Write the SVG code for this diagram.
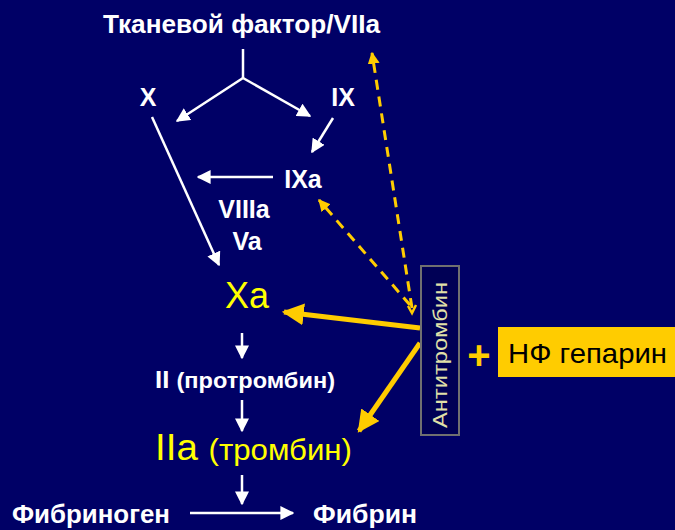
<svg xmlns="http://www.w3.org/2000/svg" width="675" height="530" viewBox="0 0 675 530">
<defs>
<style>
.w{fill:#fff;font-family:"Liberation Sans",Arial,sans-serif;font-weight:bold}
.y{fill:#ffff00;font-family:"Liberation Sans",Arial,sans-serif}
.wl{stroke:#fff;stroke-width:2.5;fill:none}
.yd{stroke:#ffcc00;stroke-width:3;fill:none;stroke-dasharray:10,7}
.yt{stroke:#ffcc00;stroke-width:5;fill:none}
</style>
<marker id="aw2" viewBox="0 0 10 10" refX="9" refY="5" markerWidth="14" markerHeight="14" markerUnits="userSpaceOnUse" orient="auto"><path d="M0,0L10,5L0,10z" fill="#fff"/></marker>
<marker id="ay" viewBox="0 0 10 10" refX="9" refY="5" markerWidth="12" markerHeight="12" markerUnits="userSpaceOnUse" orient="auto"><path d="M0,0L10,5L0,10z" fill="#ffcc00"/></marker>
<marker id="ayt" viewBox="0 0 10 10" refX="9" refY="5" markerWidth="22" markerHeight="22" markerUnits="userSpaceOnUse" orient="auto"><path d="M0,0L10,5L0,10z" fill="#ffcc00"/></marker>
</defs>
<rect width="675" height="530" fill="#000066"/>

<g id="connectors">
<path class="wl" d="M243,49V78"/>
<path class="wl" d="M243,78L177,121" marker-end="url(#aw2)"/>
<path class="wl" d="M243,78L310,116" marker-end="url(#aw2)"/>
<path class="wl" d="M152,117L219,265" marker-end="url(#aw2)"/>
<path class="wl" d="M333,118L312,152" marker-end="url(#aw2)"/>
<path class="wl" d="M273,177H198" marker-end="url(#aw2)"/>
<path class="wl" d="M242,333V358" marker-end="url(#aw2)"/>
<path class="wl" d="M242,400V431" marker-end="url(#aw2)"/>
<path class="wl" d="M242,475V504" marker-end="url(#aw2)"/>
<path class="wl" d="M190,513H293" marker-end="url(#aw2)"/>
<path class="yd" d="M412,308L372,53" marker-end="url(#ay)"/>
<path d="M408,306L412,313L416,305" stroke="#ffcc00" stroke-width="2.5" fill="none"/>
<path class="yd" d="M410,305L319,200" marker-end="url(#ay)"/>
<path class="yt" d="M420,328L284,312" marker-end="url(#ayt)"/>
<path class="yt" d="M420,343L359,431" marker-end="url(#ayt)"/>
</g>

<g id="tf"><text class="w" x="103" y="33" font-size="25" textLength="277" lengthAdjust="spacingAndGlyphs">Тканевой фактор/VIIa</text></g>
<g id="x"><text class="w" x="148" y="106" font-size="25" text-anchor="middle">X</text></g>
<g id="ix"><text class="w" x="343" y="106" font-size="25" text-anchor="middle">IX</text></g>
<g id="ixa"><text class="w" x="303" y="188" font-size="25" text-anchor="middle">IXa</text></g>
<g id="cof"><text class="w" x="244" y="218" font-size="25" text-anchor="middle">VIIIa</text><text class="w" x="247" y="250" font-size="25" text-anchor="middle">Va</text></g>
<g id="xa"><text class="y" x="247" y="308" font-size="36" text-anchor="middle">Xa</text></g>
<g id="ii"><text class="w" x="155" y="388" textLength="180" lengthAdjust="spacingAndGlyphs"><tspan font-size="24">II </tspan><tspan font-size="22">(протромбин)</tspan></text></g>
<g id="iia"><text class="y" x="155" y="460" textLength="197" lengthAdjust="spacingAndGlyphs"><tspan font-size="37">IIa </tspan><tspan font-size="30">(тромбин)</tspan></text></g>
<g id="fibrinogen"><text class="w" x="12" y="523" font-size="25" textLength="158" lengthAdjust="spacingAndGlyphs">Фибриноген</text></g>
<g id="fibrin"><text class="w" x="313" y="523" font-size="25" textLength="104" lengthAdjust="spacingAndGlyphs">Фибрин</text></g>
<g id="antithrombin">
<rect x="421" y="266" width="38" height="169" fill="#000055" stroke="#707070" stroke-width="2"/>
<text transform="translate(447,428) rotate(-90)" font-family="'Liberation Sans',Arial,sans-serif" font-size="20" fill="#e0e0a8" textLength="146" lengthAdjust="spacingAndGlyphs">Антитромбин</text>
</g>
<g id="plus"><text x="479" y="369" font-family="'Liberation Sans',Arial,sans-serif" font-size="40" font-weight="bold" fill="#ffcc00" text-anchor="middle">+</text></g>
<g id="heparin">
<rect x="498" y="327" width="177" height="50" fill="#ffcc00"/>
<text x="508" y="363" font-family="'Liberation Sans',Arial,sans-serif" font-size="28" fill="#000" textLength="159" lengthAdjust="spacingAndGlyphs">НФ гепарин</text>
</g>
</svg>
